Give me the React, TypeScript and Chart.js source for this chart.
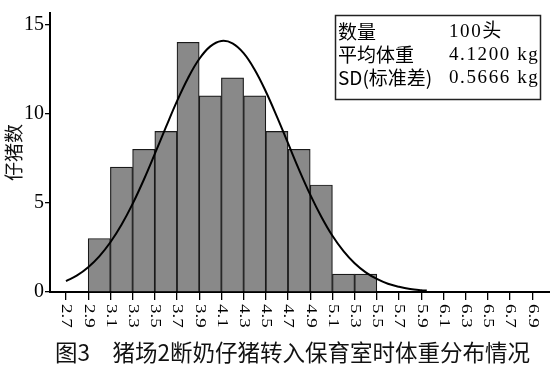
import React, { useEffect, useRef } from 'react';
import { Chart, registerables } from 'chart.js';

Chart.register(...registerables);

// Histogram bins (bin centers, width 0.2 kg) and counts
const binCenters = [3.0, 3.2, 3.4, 3.6, 3.8, 4.0, 4.2, 4.4, 4.6, 4.8, 5.0, 5.2, 5.4];
const binCounts = [3, 7, 8, 9, 14, 11, 12, 11, 9, 8, 6, 1, 1];

// Fitted curve
const curveX = [2.7, 2.8, 2.9, 3.0, 3.1, 3.2, 3.3, 3.4, 3.5, 3.6, 3.7, 3.8, 3.9, 4.0, 4.1, 4.2, 4.3, 4.4, 4.5, 4.6, 4.7, 4.8, 4.9, 5.0, 5.1, 5.2, 5.3, 5.4, 5.5, 5.6, 5.7, 5.8, 5.9, 5.95];
const curveY = [0.61, 0.93, 1.39, 2.0, 2.79, 3.77, 4.94, 6.28, 7.74, 9.24, 10.7, 12.0, 13.06, 13.77, 14.07, 13.94, 13.39, 12.46, 11.24, 9.83, 8.34, 6.85, 5.46, 4.22, 3.15, 2.29, 1.61, 1.1, 0.73, 0.46, 0.29, 0.17, 0.1, 0.08];

const xTickLabels = ['2.7', '2.9', '3.1', '3.3', '3.5', '3.7', '3.9', '4.1', '4.3', '4.5', '4.7', '4.9', '5.1', '5.3', '5.5', '5.7', '5.9', '6.1', '6.3', '6.5', '6.7', '6.9'];
const yTickValues = [0, 5, 10, 15];

const statLabels = ['数量', '平均体重', 'SD(标准差)'];
const statValues = ['100头', '4.1200 kg', '0.5666 kg'];
const yAxisTitle = '仔猪数';
const chartTitle = '图3　猪场2断奶仔猪转入保育室时体重分布情况';

const overlayPlugin = {
  id: 'overlay',
  afterDraw(chart: any) {
    const ctx: CanvasRenderingContext2D = chart.ctx;
    const xs = chart.scales.x;
    ctx.save();
    ctx.fillStyle = '#000';
    // rotated x tick labels (reading top to bottom)
    ctx.font = '14px "Liberation Serif"';
    xTickLabels.forEach((lbl) => {
      const px = xs.getPixelForValue(parseFloat(lbl));
      ctx.save();
      ctx.translate(px, xs.top + 12);
      ctx.rotate(Math.PI / 2);
      ctx.scale(1.35, 1);
      ctx.textAlign = 'left';
      ctx.textBaseline = 'middle';
      ctx.fillText(lbl, 0, 0);
      ctx.restore();
    });

    // stats box
    ctx.lineWidth = 1.5;
    ctx.strokeStyle = '#222';
    ctx.strokeRect(335.5, 15.5, 205, 84);
    ctx.textAlign = 'left';
    ctx.textBaseline = 'middle';
    const rowsY = [32, 55, 78];
    ctx.font = '19px "Noto Sans CJK SC"';
    statLabels.forEach((t, i) => ctx.fillText(t, 338, rowsY[i]));
    ctx.font = '19px "Liberation Serif", "Noto Sans CJK SC"';
    (ctx as any).letterSpacing = '1.6px';
    statValues.forEach((t, i) => ctx.fillText(t, 449, rowsY[i]));
    (ctx as any).letterSpacing = '0px';

    // bottom caption
    ctx.fillStyle = '#111';
    ctx.font = '22.5px "Noto Sans CJK SC"';
    ctx.fillText(chartTitle, 55, 352);
    ctx.restore();
  },
};

export default function App() {
  const ref = useRef<HTMLCanvasElement>(null);
  useEffect(() => {
    const chart = new Chart(ref.current as HTMLCanvasElement, {
      type: 'bar',
      data: {
        datasets: [
          {
            type: 'line',
            data: curveX.map((x, i) => ({ x, y: curveY[i] })),
            borderColor: '#000',
            borderWidth: 2,
            pointRadius: 0,
            tension: 0.4,
            fill: false,
            order: 0,
          } as any,
          {
            type: 'bar',
            data: binCenters.map((x, i) => ({ x, y: binCounts[i] })),
            backgroundColor: '#898989',
            borderColor: '#1a1a1a',
            borderWidth: 1.2,
            barPercentage: 1,
            categoryPercentage: 1,
            order: 1,
          } as any,
        ],
      },
      options: {
        animation: false,
        responsive: false,
        layout: { padding: 0 },
        plugins: {
          legend: { display: false },
          tooltip: { enabled: false },
          title: { display: false },
        },
        scales: {
          x: {
            type: 'linear',
            min: 2.556,
            max: 7.06,
            offset: false,
            grid: {
              display: true,
              drawOnChartArea: false,
              drawTicks: true,
              tickLength: 8,
              color: '#000',
              lineWidth: 1.3,
              offset: false,
            },
            border: { display: true, color: '#000', width: 2 },
            ticks: { display: false },
            afterBuildTicks: (s: any) => {
              s.ticks = xTickLabels.map((l) => ({ value: parseFloat(l) }));
            },
            afterFit: (s: any) => {
              s.height = 78;
            },
          },
          y: {
            min: 0,
            max: 15.64,
            grid: { drawOnChartArea: false, tickLength: 5, color: '#000', lineWidth: 1.3 },
            border: { display: true, color: '#000', width: 2 },
            ticks: { font: { family: '"Liberation Serif"', size: 20 }, color: '#000', padding: 1 },
            afterBuildTicks: (s: any) => {
              s.ticks = yTickValues.map((v) => ({ value: v }));
            },
            title: {
              display: true,
              text: yAxisTitle,
              font: { family: '"Noto Sans CJK SC"', size: 19 },
              color: '#111',
              padding: { top: 2, bottom: 0 },
            },
            afterFit: (s: any) => {
              s.width = 50;
            },
          },
        },
      } as any,
      plugins: [overlayPlugin],
    });
    return () => chart.destroy();
  }, []);
  return (
    <div style={{ position: 'absolute', left: 0, top: 0, width: 550, height: 370, background: '#fff' }}>
      <canvas ref={ref} width={550} height={370} style={{ display: 'block' }} />
    </div>
  );
}
